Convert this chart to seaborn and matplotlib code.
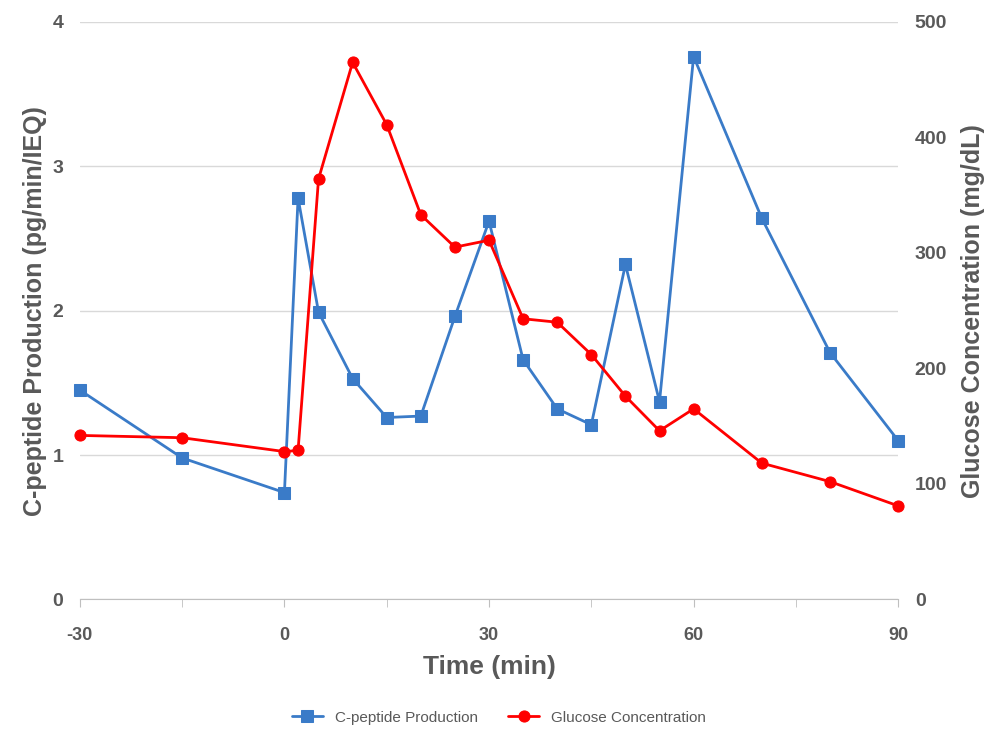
import matplotlib
matplotlib.use("Agg")
import matplotlib.pyplot as plt
import seaborn as sns
import pandas as pd

# Time points (min)
t_pep = [-30, -15, 0, 2, 5, 10, 15, 20, 25, 30, 35, 40, 45, 50, 55, 60, 70, 80, 90]
c_peptide = [1.45, 0.98, 0.74, 2.78, 1.99, 1.53, 1.26, 1.27, 1.96, 2.62, 1.66, 1.32,
             1.21, 2.32, 1.37, 3.76, 2.64, 1.71, 1.10]
glucose = [142, 140, 128, 129, 364, 465, 411, 333, 305, 311, 243, 240,
           212, 176, 146, 165, 118, 102, 81]
x_ticks = [-30, 0, 30, 60, 90]
x_labels = ["-30", "0", "30", "60", "90"]

df = pd.DataFrame({"t": t_pep, "pep": c_peptide, "glu": glucose})

sns.set_style("white")
plt.rcParams['font.family'] = ['Liberation Sans', 'DejaVu Sans']
gray = "#595959"

fig, ax = plt.subplots(figsize=(9.98, 7.31), dpi=100)
ax2 = ax.twinx()

sns.lineplot(data=df, x="t", y="pep", ax=ax, color="#3a7bc8", marker="s",
             markersize=8, markeredgecolor="#3a7bc8", linewidth=2,
             label="C-peptide Production", legend=False, clip_on=False)
sns.lineplot(data=df, x="t", y="glu", ax=ax2, color="#ff0000", marker="o",
             markersize=8, markeredgecolor="#ff0000", linewidth=2,
             label="Glucose Concentration", legend=False, clip_on=False)

ax.set_xlim(-30, 90)
ax.set_ylim(0, 4)
ax2.set_ylim(0, 500)
ax.set_xticks(x_ticks)
ax.set_xticklabels(x_labels)
ax.set_xticks(range(-30, 91, 15), minor=True)
ax.set_yticks([0, 1, 2, 3, 4])
ax2.set_yticks([0, 100, 200, 300, 400, 500])
ax.yaxis.grid(True, color="#d9d9d9", linewidth=1)
ax.tick_params(axis="x", which="both", bottom=True, length=6, color="#bfbfbf",
               labelsize=13, labelcolor=gray, pad=14)
ax.tick_params(axis="y", length=0, labelsize=14, labelcolor=gray, pad=12)
ax2.tick_params(axis="y", length=0, labelsize=14, labelcolor=gray, pad=12)
for lab in ax.get_xticklabels() + ax.get_yticklabels() + ax2.get_yticklabels():
    lab.set_fontweight("bold")
for a in (ax, ax2):
    for s in a.spines.values():
        s.set_visible(False)
ax.spines["bottom"].set_visible(True)
ax.spines["bottom"].set_color("#bfbfbf")

ax.set_xlabel("Time (min)", fontsize=19, fontweight="bold", color=gray, labelpad=8)
ax.set_ylabel("C-peptide Production (pg/min/IEQ)", fontsize=18, fontweight="bold", color=gray)
ax2.set_ylabel("Glucose Concentration (mg/dL)", fontsize=18, fontweight="bold", color=gray, labelpad=10)

h1, l1 = ax.get_legend_handles_labels()
h2, l2 = ax2.get_legend_handles_labels()
fig.legend(h1 + h2, l1 + l2, loc="lower center", ncol=2, frameon=False,
           fontsize=11, labelcolor=gray, bbox_to_anchor=(0.5, -0.01))

fig.subplots_adjust(left=0.08, right=0.9, top=0.97, bottom=0.18)
fig.savefig("out.png")
